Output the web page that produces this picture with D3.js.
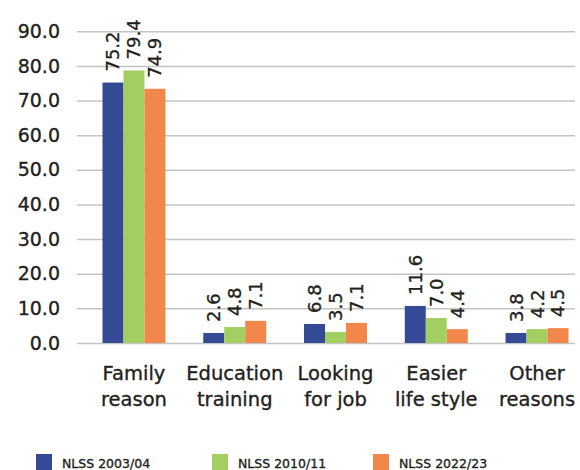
<!DOCTYPE html>
<html><head><meta charset="utf-8">
<script src="https://cdn.jsdelivr.net/npm/d3@7"></script>
<style>
html,body{margin:0;padding:0;background:#fff;}
svg{display:block;font-family:"DejaVu Sans",sans-serif;}
svg text{stroke:#231f20;stroke-width:0.35px;}
</style></head>
<body><svg id="chart" width="580" height="470"></svg>
<script>
const categories = [["Family","reason"],["Education","training"],["Looking","for job"],["Easier","life style"],["Other","reasons"]];
const series = ["NLSS 2003/04","NLSS 2010/11","NLSS 2022/23"];
const colors = ["#344a95","#a3ce61","#f1874b"];
// bar heights as drawn in the picture
const s2003 = [75.2, 2.9, 5.5, 10.7, 2.9];
const s2010 = [78.7, 4.6, 3.2, 7.2, 4.0];
const s2022 = [73.4, 6.4, 5.8, 4.0, 4.3];
// printed data labels
const l2003 = ["75.2","2.6","6.8","11.6","3.8"];
const l2010 = ["79.4","4.8","3.5","7.0","4.2"];
const l2022 = ["74.9","7.1","7.1","4.4","4.5"];
const yTicks = [0,10,20,30,40,50,60,70,80,90];

const values = [s2003, s2010, s2022];
const labels = [l2003, l2010, l2022];
const svg = d3.select("#chart");
const plotLeft = 77, gridRight = 575, plotTop = 31.3, plotBottom = 343;
const textColor = "#231f20";

const y = d3.scaleLinear().domain([0,90]).range([plotBottom, plotTop]);
const x0 = d3.scaleBand().domain(d3.range(categories.length)).range([plotLeft, 594]).paddingInner(0.375).paddingOuter(0.253);
const x1 = d3.scaleBand().domain(d3.range(series.length)).range([0, x0.bandwidth()]).padding(0);

// grid + y axis
const ya = svg.append("g").attr("transform", `translate(${plotLeft},0)`)
  .call(d3.axisLeft(y).tickValues(yTicks).tickSize(-(gridRight-plotLeft)).tickPadding(17).tickFormat(d => d.toFixed(1)));
ya.select(".domain").remove();
ya.selectAll(".tick line").attr("stroke","#c4c4c4").attr("stroke-width",1.5);
ya.selectAll(".tick text").attr("fill",textColor).style("font-size","19px").style("font-family","DejaVu Sans");

// bars
const groups = svg.append("g").selectAll("g").data(categories).join("g")
  .attr("transform",(d,i)=>`translate(${x0(i)},0)`);
groups.each(function(c,ci){
  const g = d3.select(this);
  series.forEach((s,si)=>{
    const v = values[si][ci];
    g.append("rect").attr("x",x1(si)).attr("width",x1.bandwidth())
      .attr("y",y(v)).attr("height",y(0)-y(v)).attr("fill",colors[si]);
    const cx = x1(si)+x1.bandwidth()/2, ty = y(v)-11;
    g.append("text").attr("transform",`translate(${cx},${ty}) rotate(-90)`)
      .attr("dy","0.36em").attr("text-anchor","start")
      .attr("fill",textColor).style("font-size","18px").text(labels[si][ci]);
  });
});

// category labels
const cl = svg.append("g").selectAll("text").data(categories).join("text")
  .attr("text-anchor","middle").attr("fill",textColor).style("font-size","19.5px")
  .attr("transform",(d,i)=>`translate(${x0(i)+x0.bandwidth()/2},380)`);
cl.each(function(d){
  const t = d3.select(this);
  d.forEach((line,li)=>t.append("tspan").attr("x",0).attr("y",li*26).text(line));
});

// legend
const legendX = [36, 212, 373];
const lg = svg.append("g").selectAll("g").data(series).join("g")
  .attr("transform",(d,i)=>`translate(${legendX[i]},454)`);
lg.append("rect").attr("width",16).attr("height",16).attr("fill",(d,i)=>colors[i]);
lg.append("text").attr("x",26).attr("y",14).attr("fill",textColor).style("font-size","12.5px").text(d=>d);
</script></body></html>
